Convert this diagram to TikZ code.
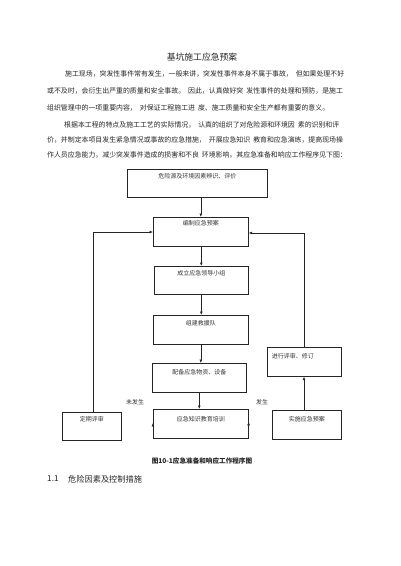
\documentclass[tikz,border=0pt]{standalone}
\usepackage{fontspec}
\setmainfont{Noto Sans CJK SC}
\usetikzlibrary{arrows.meta,calc}
\XeTeXlinebreaklocale "zh"
\XeTeXlinebreakskip=0pt plus 3pt
\newcommand{\gp}{\hspace{3pt}}
\begin{document}
\begin{tikzpicture}[x=1pt,y=-1pt,
  body/.style={anchor=west,inner sep=0pt,font=\fontsize{6.9}{8}\selectfont,text=black!85},
  jline/.style={body,align=justify,text width=#1},
  fbox/.style={draw=black!85,line width=0.6pt,inner xsep=1pt,inner ysep=2pt,
    font=\fontsize{6}{7}\selectfont,text=black!80,anchor=north west},
  lbl/.style={inner sep=0pt,font=\fontsize{6}{7}\selectfont,text=black!80},
  conn/.style={draw=black!85,line width=0.6pt},
  arr/.style={conn,-{Latex[length=3.5pt,width=2.8pt]}}
]
\useasboundingbox[fill=white] (0,0) rectangle (400,566);

% title
\node[inner sep=0pt,font=\fontsize{8.8}{10}\selectfont,text=black!85] (title) at (202,57) {基坑施工应急预案};

% paragraph 1
\node[jline=287pt] (p1a) at (65,74) {\parfillskip=0pt\relax 施工现场，突发性事件常有发生，一般来讲，突发性事件本身不属于事故，\gp 但如果处理不好};
\node[jline=305pt] (p1b) at (47,91) {\parfillskip=0pt\relax 或不及时，会衍生出严重的质量和安全事故。\gp 因此，认真做好突\gp 发性事件的处理和预防，是施工};
\node[body] (p1c) at (47,108) {组织管理中的一项重要内容，\gp 对保证工程施工进\gp 度、施工质量和安全生产都有重要的意义。};

% paragraph 2
\node[jline=288pt] (p2a) at (64,125) {\parfillskip=0pt\relax 根据本工程的特点及施工工艺的实际情况，\gp 认真的组织了对危险源和环境因\gp 素的识别和评};
\node[jline=305pt] (p2b) at (47,140) {\parfillskip=0pt\relax 价，并制定本项目发生紧急情况或事故的应急措施，\gp 开展应急知识\gp 教育和应急演练，提高现场操};
\node[jline=305pt] (p2c) at (47,155) {\parfillskip=0pt\relax 作人员应急能力，减少突发事件造成的损害和不良\gp 环境影响。其应急准备和响应工作程序见下图：};

% boxes
\node[fbox,minimum width=140pt,text height=7pt,text depth=17pt] (b1) at (127,169) {危险源及环境因素辨识、评价};
\node[fbox,minimum width=95pt,text height=6.5pt,text depth=18.5pt] (b2) at (153,217) {编制应急预案};
\node[fbox,minimum width=94pt,text height=7pt,text depth=17pt] (b3) at (154,266) {成立应急领导小组};
\node[fbox,minimum width=95pt,text height=8pt,text depth=17pt] (b4) at (153,315) {组建救援队};
\node[fbox,minimum width=94pt,text height=9pt,text depth=16pt] (b5) at (152,363) {配备应急物资、设备};
\node[fbox,minimum width=95pt,text height=10pt,text depth=15pt] (b6) at (153,409) {应急知识教育培训};
\node[fbox,minimum width=59pt,text height=7pt,text depth=17pt] (b7) at (62,412) {定期评审};
\node[fbox,minimum width=69pt,text height=9pt,text depth=16pt] (b8) at (272,410) {实施应急预案};
\node[fbox,minimum width=74pt,text height=9pt,text depth=16pt,align=left,inner xsep=4.5pt,
  text width=65pt] (b9) at (267,347) {进行评审、修订};

% labels
\node[lbl] (l1) at (135,402) {未发生};
\node[lbl] (l2) at (262,402) {发生};

% corners
\coordinate (cl) at (93,232);
\coordinate (cr) at (304,233);

% connectors
\draw[arr] (b1.south -| b2.north) -- (b2.north);
\draw[arr] (b2.south -| b3.north) -- (b3.north);
\draw[arr] (b3.south) -- (b3.south |- b4.north);
\draw[arr] (b4.south) -- (b4.south |- b5.north);
\draw[arr] (b5.south) -- (b5.south |- b6.north);
\draw[arr] ($(b6.west)+(0,-1)$) -- ($(b6.west)+(0,-1)$ -| b7.east);
\draw[arr] ($(b6.east)+(0,-2)$) -- ($(b6.east)+(0,-2)$ -| b8.west);
\draw[arr] (b8.north -| cr) -- (b9.south -| cr);
\draw[arr] (b9.north -| cr) -- (cr) -- (cr -| b2.east);
\draw[arr] (b7.north -| cl) -- (cl) -- (cl -| b2.west);

% caption and heading
\node[inner sep=0pt,font=\fontsize{6.6}{8}\selectfont\bfseries,text=black!85] (cap) at (202,461) {图10-1应急准备和响应工作程序图};
\node[inner sep=0pt,anchor=west,font=\fontsize{8.2}{10}\selectfont,text=black!85] (h1) at (47,479) {1.1};
\node[inner sep=0pt,anchor=west,font=\fontsize{8.2}{10}\selectfont,text=black!85] (h2) at (68,479) {危险因素及控制措施};
\end{tikzpicture}
\end{document}
